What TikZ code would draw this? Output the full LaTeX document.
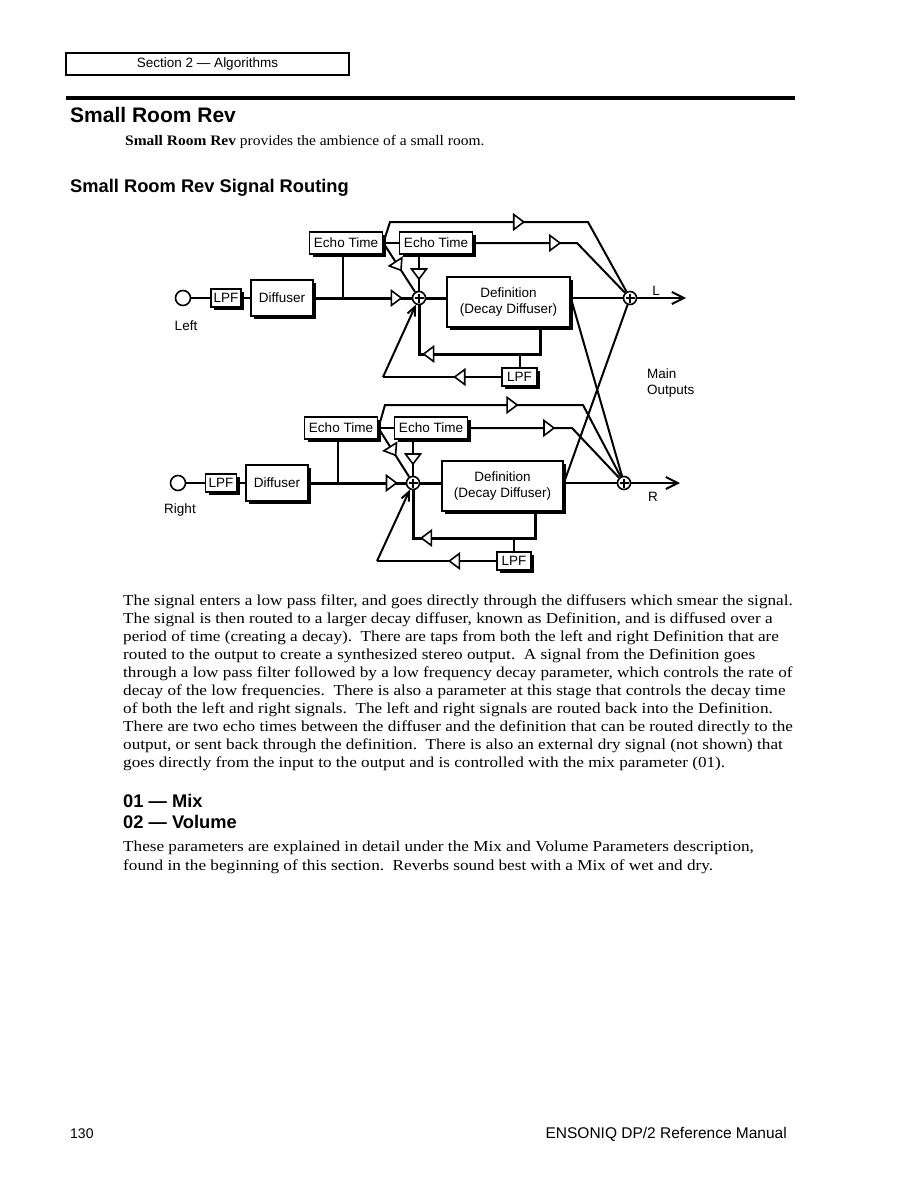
\documentclass[tikz,border=0pt]{standalone}
\usepackage{fontspec}
\setmainfont{Liberation Serif}
\setsansfont{Liberation Sans}
\newfontfamily\bodyfont[FakeStretch=1.13]{Liberation Serif}
\newfontfamily\introfont[FakeStretch=1.067]{Liberation Serif}
\usetikzlibrary{shapes.geometric,arrows.meta,shadows,calc}
\begin{document}
\begin{tikzpicture}[x=1pt,y=-1pt,
  lbl/.style={font=\fontsize{13.5}{15.5}\selectfont\sffamily, inner sep=0pt},
  blk/.style={draw, line width=1.7pt, fill=white, inner sep=0pt, lbl, align=center,
    drop shadow={shadow xshift=3pt,shadow yshift=-3pt,fill=black,opacity=1}},
  inp/.style={circle, draw, line width=1.6pt, minimum size=15pt, inner sep=0pt, fill=white},
  sumn/.style={circle, draw, line width=1.6pt, fill=white, minimum size=13pt, inner sep=0pt,
    path picture={\draw[line width=1.3pt]
      ([yshift=-4.5pt]path picture bounding box.center) -- ([yshift=4.5pt]path picture bounding box.center)
      ([xshift=-4.5pt]path picture bounding box.center) -- ([xshift=4.5pt]path picture bounding box.center);}},
  gain/.style={isosceles triangle, isosceles triangle stretches, minimum width=15pt, minimum height=10pt,
    draw, fill=white, line width=1.6pt, inner sep=0pt, sloped, allow upside down},
  sig/.style={line width=3pt, line join=miter},
  wire/.style={line width=2pt, line join=miter},
  outarrow/.style={-{Straight Barb[length=12pt,width=12pt]}},
  fbarrow/.style={-{Straight Barb[length=9pt,width=8pt]}},
  body/.style={anchor=base west, inner sep=0pt, font=\fontsize{15.2}{18}\bodyfont},
  head/.style={anchor=base west, inner sep=0pt, font=\sffamily\bfseries},
  foot/.style={inner sep=0pt, font=\fontsize{15.5}{17}\selectfont\sffamily}
]
\useasboundingbox (0,0) rectangle (918,1188);
\fill[white] (0,0) rectangle (918,1188);

% ---------- page header ----------
\node[draw, line width=1.5pt, minimum width=283pt, minimum height=22pt, inner sep=0pt,
  font=\fontsize{13.5}{15}\selectfont\sffamily] (hdr) at (207.5,64) {Section 2 — Algorithms};
\draw[line width=3.5pt] (66,98) -- (795,98);
\node[head, font=\fontsize{21}{24}\selectfont\sffamily\bfseries] (title) at (70,122.5) {Small Room Rev};
\node[anchor=base west, inner sep=0pt, font=\fontsize{14.5}{18}\introfont] (intro) at (125,146) {\textbf{Small Room Rev} provides the ambience of a small room.};
\node[head, font=\fontsize{18.3}{21}\selectfont\sffamily\bfseries] (sub) at (70,192.5) {Small Room Rev Signal Routing};

% ---------- left channel ----------
\node[inp] (inL) at (183,298) {};
\node[blk, minimum width=30pt, minimum height=18pt] (lpfL) at (226,298) {LPF};
\node[blk, minimum width=62pt, minimum height=36pt] (difL) at (282,298) {Diffuser};
\node[blk, minimum width=73pt, minimum height=22pt] (etL1) at (346,243) {Echo Time};
\node[blk, minimum width=73pt, minimum height=22pt] (etL2) at (436,243) {Echo Time};
\node[sumn] (sumL) at (419,298) {};
\node[blk, minimum width=123pt, minimum height=50pt] (defL) at (508.5,302) {Definition\\(Decay Diffuser)};
\node[sumn] (sumLo) at (630,298) {};
\node[blk, minimum width=35pt, minimum height=18pt] (lpfL2) at (519.5,377) {LPF};
\node[lbl] (leftlbl) at (186,326) {Left};
\node[lbl] (Llbl) at (656,291) {L};
\coordinate (tapL) at (343,298);
\coordinate (topL1) at (390,222);
\coordinate (topL2) at (588,222);
\coordinate (e2L) at (577,243);
\coordinate (fbL1) at (540,354);
\coordinate (fbL2) at (419,354);
\coordinate (lowL) at (383,377);
\coordinate (outL) at (686,298);

\draw[line width=2.2pt] (inL) -- (lpfL);
\draw[line width=2.2pt] (lpfL) -- (difL);
\draw[sig] (difL) -- node[gain,pos=.83] (gL0) {} (sumL);
\draw[wire] (tapL) -- (tapL |- etL1.south);
\draw[wire] (etL1.east) -- (etL2.west);
\draw[wire] (etL1.east) -- (topL1) -- node[gain,pos=.644] (gL1) {} (topL2) -- (sumLo);
\draw[wire] (etL2.east) -- node[gain,pos=.775] (gL2) {} (e2L) -- (sumLo);
\draw[wire] (etL1.east) -- node[gain,pos=.45] (gL3) {} (sumL);
\draw[wire] (etL2.south -| sumL) -- node[gain,pos=.5] (gL4) {} (sumL);
\draw[sig] (sumL) -- (sumL -| defL.west);
\draw[wire] (defL.east |- sumLo) -- (sumLo);
\draw[wire,outarrow] (sumLo) -- (outL);
\draw[sig] (fbL1 |- defL.south) -- (fbL1) -- node[gain,pos=.91] (gL5) {} (fbL2) -- (sumL);
\draw[wire] (lpfL2.north) -- (lpfL2.north |- fbL1);
\draw[wire] (lpfL2.west) -- node[gain,pos=.34] (gL6) {} (lowL);
\draw[wire,fbarrow] (lowL) -- (sumL);

% ---------- right channel ----------
\node[inp] (inR) at (178,483) {};
\node[blk, minimum width=31pt, minimum height=18pt] (lpfR) at (221,483) {LPF};
\node[blk, minimum width=62pt, minimum height=36pt] (difR) at (277,483) {Diffuser};
\node[blk, minimum width=73pt, minimum height=22pt] (etR1) at (341,428) {Echo Time};
\node[blk, minimum width=73pt, minimum height=22pt] (etR2) at (431,428) {Echo Time};
\node[sumn] (sumR) at (413,483) {};
\node[blk, minimum width=121pt, minimum height=50pt] (defR) at (502.5,486) {Definition\\(Decay Diffuser)};
\node[sumn] (sumRo) at (624,483) {};
\node[blk, minimum width=34pt, minimum height=18pt] (lpfR2) at (514,561) {LPF};
\node[lbl] (rightlbl) at (180,510) {Right};
\node[lbl] (Rlbl) at (653,497) {R};
\node[lbl, anchor=west] (main1) at (647,374) {Main};
\node[lbl, anchor=west] (main2) at (647,391) {Outputs};
\coordinate (tapR) at (338,483);
\coordinate (topR1) at (385,405);
\coordinate (topR2) at (583,405);
\coordinate (e2R) at (572,428);
\coordinate (fbR1) at (535,538);
\coordinate (fbR2) at (413,538);
\coordinate (lowR) at (377,561);
\coordinate (outR) at (680,483);

\draw[line width=2.2pt] (inR) -- (lpfR);
\draw[line width=2.2pt] (lpfR) -- (difR);
\draw[sig] (difR) -- node[gain,pos=.84] (gR0) {} (sumR);
\draw[wire] (tapR) -- (tapR |- etR1.south);
\draw[wire] (etR1.east) -- (etR2.west);
\draw[wire] (etR1.east) -- (topR1) -- node[gain,pos=.636] (gR1) {} (topR2) -- (sumRo);
\draw[wire] (etR2.east) -- node[gain,pos=.766] (gR2) {} (e2R) -- (sumRo);
\draw[wire] (etR1.east) -- node[gain,pos=.45] (gR3) {} (sumR);
\draw[wire] (etR2.south -| sumR) -- node[gain,pos=.5] (gR4) {} (sumR);
\draw[sig] (sumR) -- (sumR -| defR.west);
\draw[wire] (defR.east |- sumRo) -- (sumRo);
\draw[wire,outarrow] (sumRo) -- (outR);
\draw[sig] (fbR1 |- defR.south) -- (fbR1) -- node[gain,pos=.88] (gR5) {} (fbR2) -- (sumR);
\draw[wire] (lpfR2.north) -- (lpfR2.north |- fbR1);
\draw[wire] (lpfR2.west) -- node[gain,pos=.34] (gR6) {} (lowR);
\draw[wire,fbarrow] (lowR) -- (sumR);

% ---------- cross taps ----------
\draw[wire] (defL.east |- sumLo) -- (sumRo);
\draw[wire] (defR.east |- sumRo) -- (sumLo);

% ---------- body text ----------
\node[body] (t1) at (123,605.0) {The signal enters a low pass filter, and goes directly through the diffusers which smear the signal.};
\node[body] (t2) at (123,623.1) {The signal is then routed to a larger decay diffuser, known as Definition, and is diffused over a};
\node[body] (t3) at (123,641.2) {period of time (creating a decay).\ \ There are taps from both the left and right Definition that are};
\node[body] (t4) at (123,659.3) {routed to the output to create a synthesized stereo output.\ \ A signal from the Definition goes};
\node[body] (t5) at (123,677.4) {through a low pass filter followed by a low frequency decay parameter, which controls the rate of};
\node[body] (t6) at (123,695.5) {decay of the low frequencies.\ \ There is also a parameter at this stage that controls the decay time};
\node[body] (t7) at (123,713.6) {of both the left and right signals.\ \ The left and right signals are routed back into the Definition.};
\node[body] (t8) at (123,731.7) {There are two echo times between the diffuser and the definition that can be routed directly to the};
\node[body] (t9) at (123,749.8) {output, or sent back through the definition.\ \ There is also an external dry signal (not shown) that};
\node[body] (t10) at (123,767.9) {goes directly from the input to the output and is controlled with the mix parameter (01).};

\node[head, font=\fontsize{18.3}{21}\selectfont\sffamily\bfseries] (p1) at (123,807.5) {01 — Mix};
\node[head, font=\fontsize{18.3}{21}\selectfont\sffamily\bfseries] (p2) at (123,828.5) {02 — Volume};
\node[body] (t11) at (123,851) {These parameters are explained in detail under the Mix and Volume Parameters description,};
\node[body] (t12) at (123,870) {found in the beginning of this section.\ \ Reverbs sound best with a Mix of wet and dry.};

% ---------- footer ----------
\node[foot, anchor=base west, font=\fontsize{14}{17}\selectfont\sffamily] (pg) at (70,1138) {130};
\node[foot, anchor=base east] (man) at (787,1138) {ENSONIQ DP/2 Reference Manual};
\end{tikzpicture}
\end{document}
